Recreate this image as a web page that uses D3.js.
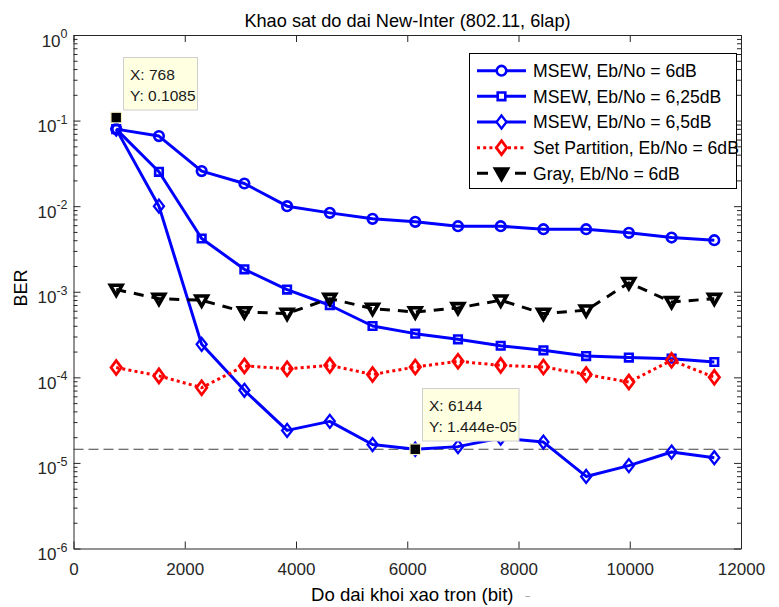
<!DOCTYPE html>
<html>
<head>
<meta charset="utf-8">
<script src="https://cdn.jsdelivr.net/npm/d3@7"></script>
<style>
  html, body { margin: 0; padding: 0; background: #fff; }
  svg { display: block; font-family: "Liberation Sans", Arial, sans-serif; }
</style>
</head>
<body>
<svg id="chart" width="779" height="607"></svg>
<script>
// ---------------- data ----------------
const blockLengths = [768, 1536, 2304, 3072, 3840, 4608, 5376, 6144, 6912, 7680, 8448, 9216, 9984, 10752, 11520];
const msew6dB   = [0.0795, 0.0659, 0.0257, 0.0184, 0.0100, 0.00835, 0.00711, 0.00656, 0.00583, 0.00583, 0.00538, 0.00538, 0.00488, 0.00430, 0.00400];
const msew625dB = [0.0795, 0.0252, 0.00419, 0.00183, 0.00106, 0.000695, 0.000398, 0.000324, 0.000278, 0.000234, 0.000207, 0.000177, 0.000170, 0.000165, 0.000151];
const msew65dB  = [0.0795, 0.0100, 0.000243, 7.05e-5, 2.40e-5, 3.06e-5, 1.64e-5, 1.444e-5, 1.55e-5, 1.95e-5, 1.75e-5, 6.95e-6, 9.3e-6, 1.34e-5, 1.15e-5];
const setPart6dB = [0.000130, 0.000104, 7.57e-5, 0.000136, 0.000126, 0.000138, 0.000108, 0.000132, 0.000154, 0.000138, 0.000132, 0.000108, 8.8e-5, 0.000158, 0.000100];
const gray6dB   = [0.00106, 0.00083, 0.000796, 0.00058, 0.000556, 0.00083, 0.000636, 0.00058, 0.000647, 0.000796, 0.000556, 0.000608, 0.00127, 0.00076, 0.00083];
const seriesNames = ["MSEW, Eb/No = 6dB", "MSEW, Eb/No = 6,25dB", "MSEW, Eb/No = 6,5dB", "Set Partition, Eb/No = 6dB", "Gray, Eb/No = 6dB"];
const xTicks = [0, 2000, 4000, 6000, 8000, 10000, 12000];
const yExponents = [0, -1, -2, -3, -4, -5, -6];
const tipX = [768, 6144];
const tipY = [0.1085, 1.444e-5];
const tipLabels = [["X: 768", "Y: 0.1085"], ["X: 6144", "Y: 1.444e-05"]];
const refLineY = 1.444e-5;
const titleText = "Khao sat do dai New-Inter (802.11, 6lap)";
const xLabel = "Do dai khoi xao tron (bit)";
const yLabel = "BER";

// ---------------- layout ----------------
const L = 73.5, R = 741, T = 35, B = 548.5;
const svg = d3.select("#chart");
const x = d3.scaleLinear().domain([0, 12000]).range([L, R]);
const y = d3.scaleLog().domain([1e-6, 1]).range([B, T]);
const axisColor = "#262626";

svg.append("rect").attr("x", L).attr("y", T).attr("width", R - L).attr("height", B - T).attr("fill", "#fff");

// ---------------- axes ----------------
const decades = yExponents.map(e => Math.pow(10, e));
const minors = [];
for (let e = -6; e < 0; e++) for (let m = 2; m <= 9; m++) minors.push(m * Math.pow(10, e));

function styleAxis(g) {
  g.selectAll("path.domain").attr("stroke", axisColor).attr("stroke-width", 1);
  g.selectAll(".tick line").attr("stroke", axisColor).attr("stroke-width", 1);
  g.selectAll(".tick text").attr("fill", axisColor);
}

const gx = svg.append("g").attr("transform", `translate(0,${B})`)
  .call(d3.axisBottom(x).tickValues(xTicks).tickSize(-7).tickSizeOuter(0).tickPadding(14.5).tickFormat(d3.format("d")));
gx.selectAll(".tick text").attr("font-size", 17).attr("font-family", "Liberation Sans, Arial, sans-serif");
styleAxis(gx);

const gxt = svg.append("g").attr("transform", `translate(0,${T})`)
  .call(d3.axisTop(x).tickValues(xTicks).tickSize(-7).tickSizeOuter(0).tickFormat(""));
styleAxis(gxt);

const gy = svg.append("g").attr("transform", `translate(${L},0)`)
  .call(d3.axisLeft(y).tickValues(decades).tickSize(-7).tickSizeOuter(0).tickFormat(""));
styleAxis(gy);
const gym = svg.append("g").attr("transform", `translate(${L},0)`)
  .call(d3.axisLeft(y).tickValues(minors).tickSize(-4).tickSizeOuter(0).tickFormat(""));
styleAxis(gym); gym.select("path.domain").remove();

const gyr = svg.append("g").attr("transform", `translate(${R},0)`)
  .call(d3.axisRight(y).tickValues(decades).tickSize(-7).tickSizeOuter(0).tickFormat(""));
styleAxis(gyr);
const gyrm = svg.append("g").attr("transform", `translate(${R},0)`)
  .call(d3.axisRight(y).tickValues(minors).tickSize(-4).tickSizeOuter(0).tickFormat(""));
styleAxis(gyrm); gyrm.select("path.domain").remove();

// y tick labels 10^e
const ylab = svg.append("g").attr("fill", axisColor);
yExponents.forEach(e => {
  const yy = y(Math.pow(10, e));
  const t = ylab.append("text").attr("x", 67.5).attr("y", yy + 11.5).attr("text-anchor", "end").attr("font-size", 17);
  t.append("tspan").text("10");
  t.append("tspan").attr("font-size", 12.5).attr("dy", -8.5).text(String(e));
});

// axis labels and title
svg.append("text").attr("x", 311).attr("y", 601).attr("font-size", 18.6).attr("fill", "#000").text(xLabel);
svg.append("text").attr("x", 525.5).attr("y", 595).attr("font-size", 8).attr("fill", "#555").text("_");
svg.append("text").attr("transform", "translate(26.5,288) rotate(-90)").attr("text-anchor", "middle")
  .attr("font-size", 18).attr("fill", "#000").text(yLabel);
svg.append("text").attr("x", 407.5).attr("y", 27).attr("text-anchor", "middle")
  .attr("font-size", 18.2).attr("fill", "#000").text(titleText);

// ---------------- markers ----------------
function markerPath(type) {
  switch (type) {
    case "circle": return d3.symbol(d3.symbolCircle, Math.PI * 4.8 * 4.8)();
    case "square": return "M-3.8,-3.8H3.8V3.8H-3.8Z";
    case "diamond": return "M0,-6.5L5,0L0,6.5L-5,0Z";
    case "diamondRed": return "M0,-7L5.2,0L0,7L-5.2,0Z";
    case "triangleDown": return "M-5.8,-4.3L5.8,-4.3L0,5.8Z";
  }
}

const series = [
  { name: seriesNames[0], values: msew6dB,    color: "#0000ff", width: 3, dash: null,   marker: "circle", mw: 2.6 },
  { name: seriesNames[1], values: msew625dB,  color: "#0000ff", width: 3, dash: null,   marker: "square", mw: 2.6 },
  { name: seriesNames[2], values: msew65dB,   color: "#0000ff", width: 3, dash: null,   marker: "diamond", mw: 2.3 },
  { name: seriesNames[3], values: setPart6dB, color: "#ff0000", width: 3, dash: "3,3.2", marker: "diamondRed", mw: 2.7 },
  { name: seriesNames[4], values: gray6dB,    color: "#000000", width: 3, dash: "10,8", marker: "triangleDown", mw: 3.6 }
];

const line = d3.line().x(d => x(d[0])).y(d => y(d[1]));
const plot = svg.append("g");

plot.append("line").attr("x1", L).attr("x2", R).attr("y1", y(refLineY)).attr("y2", y(refLineY))
  .attr("stroke", "#404040").attr("stroke-width", 1).attr("stroke-dasharray", "10,5");

series.forEach(s => {
  const pts = blockLengths.map((b, i) => [b, s.values[i]]);
  plot.append("path").attr("d", line(pts)).attr("fill", "none").attr("stroke", s.color)
    .attr("stroke-width", s.width).attr("stroke-dasharray", s.dash).attr("stroke-linejoin", "round");
  plot.append("g").selectAll("path").data(pts).join("path")
    .attr("transform", d => `translate(${x(d[0])},${y(d[1])})`)
    .attr("d", markerPath(s.marker)).attr("fill", "none")
    .attr("stroke", s.color).attr("stroke-width", s.mw).attr("stroke-linejoin", "miter");
});

// ---------------- data tips ----------------
const tipBoxes = [
  { bx: 123.5, by: 57.5, w: 74, h: 52.5 },
  { bx: 422.5, by: 388.5, w: 96.5, h: 52.5 }
];
tipX.forEach((tx, i) => {
  const g = svg.append("g");
  const b = tipBoxes[i];
  g.append("rect").attr("x", b.bx).attr("y", b.by).attr("width", b.w).attr("height", b.h)
    .attr("fill", "#ffffe1").attr("stroke", "#cfcfcf").attr("stroke-width", 1);
  g.append("text").attr("x", b.bx + 6.5).attr("y", b.by + 22.5).attr("font-size", 15.5).attr("fill", "#1a1a1a").text(tipLabels[i][0]);
  g.append("text").attr("x", b.bx + 6.5).attr("y", b.by + 43.5).attr("font-size", 15.5).attr("fill", "#1a1a1a").text(tipLabels[i][1]);
  g.append("rect").attr("x", x(tx) - 5.3).attr("y", y(tipY[i]) - 5.3).attr("width", 10.6).attr("height", 10.6)
    .attr("fill", "#000").attr("stroke", "#f2edc0").attr("stroke-width", 1.2);
});

// ---------------- legend ----------------
const lg = svg.append("g");
lg.append("rect").attr("x", 469.5).attr("y", 53.5).attr("width", 267).attr("height", 135)
  .attr("fill", "#fff").attr("stroke", "#000").attr("stroke-width", 1);
series.forEach((s, i) => {
  const cy = 70.7 + i * 25.65;
  const ld = s.marker === "triangleDown" ? "11,27,11" : s.dash;
  lg.append("line").attr("x1", 477).attr("x2", 526).attr("y1", cy).attr("y2", cy)
    .attr("stroke", s.color).attr("stroke-width", s.width).attr("stroke-dasharray", ld);
  lg.append("path").attr("transform", `translate(501.5,${cy})`).attr("d", markerPath(s.marker))
    .attr("fill", s.marker === "triangleDown" ? "#000" : "#fff").attr("stroke", s.color).attr("stroke-width", s.mw);
  lg.append("text").attr("x", 533).attr("y", cy + 6.2).attr("font-size", 17.6).attr("fill", "#000").text(s.name);
});
</script>
</body>
</html>
